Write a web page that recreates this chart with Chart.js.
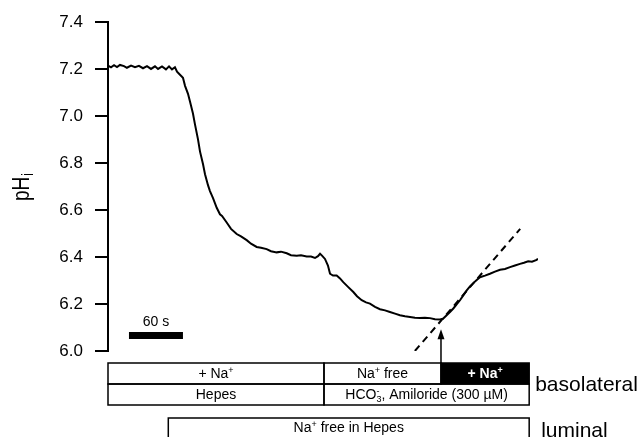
<!DOCTYPE html>
<html lang="en">
<head>
<meta charset="UTF-8" />
<title>pHi trace</title>
<script src="https://cdn.jsdelivr.net/npm/chart.js"></script>
<style>
  html, body { margin: 0; padding: 0; background: #fff; }
</style>
</head>
<body>
<canvas id="myChart" width="643" height="437"></canvas>
<script>
// time (s) and intracellular pH
const timeSec = [
  0, 3.3, 6.7, 10, 13.3, 17.8, 21, 25.6, 30, 34.4,
  38.9, 43.3, 47.8, 52.2, 55.6, 60, 64.4, 67.8, 71.1, 74.4,
  76.7, 80, 83.3, 85.6, 88.9, 91.1, 94.4, 96.7, 100, 102.2,
  105.6, 107.8, 111.1, 113.3, 116.7, 120.8, 124.4, 126.7, 131.9, 136.7,
  143, 147.8, 154.1, 158.9, 165.2, 170, 176.3, 181.1, 187.4, 192.2,
  198.6, 203.3, 209.7, 214.4, 220.8, 225.6, 230, 233.3, 235.6, 237.8,
  241.1, 244.4, 246.7, 250, 254.1, 257.8, 261.4, 266.7, 272.6, 276.7,
  281.9, 286.7, 291.1, 296.7, 302.2, 307.8, 313.3, 318.9, 324.4, 330,
  335.6, 341.1, 346.7, 352.2, 357.8, 363.3, 368.9, 372.2, 376.3, 380,
  383.7, 387.4, 391.1, 394.8, 398.6, 402.2, 405.9, 409.7, 413.3, 418.9,
  424.4, 430, 435.6, 441.1, 446.7, 452.2, 457.8, 462.2, 466.9, 471.1,
  476.3, 477.8
];
const phValues = [
  7.215, 7.208, 7.217, 7.209, 7.218, 7.213, 7.206, 7.215, 7.208, 7.214,
  7.204, 7.213, 7.201, 7.212, 7.201, 7.212, 7.199, 7.212, 7.199, 7.208,
  7.189, 7.176, 7.163, 7.129, 7.095, 7.062, 7.011, 6.964, 6.901, 6.850,
  6.795, 6.753, 6.706, 6.681, 6.651, 6.610, 6.582, 6.575, 6.547, 6.520,
  6.498, 6.488, 6.472, 6.457, 6.443, 6.440, 6.434, 6.425, 6.420, 6.423,
  6.416, 6.408, 6.406, 6.408, 6.402, 6.402, 6.396, 6.404, 6.414, 6.406,
  6.392, 6.364, 6.329, 6.321, 6.321, 6.309, 6.293, 6.273, 6.251, 6.233,
  6.216, 6.207, 6.202, 6.188, 6.178, 6.173, 6.166, 6.159, 6.152, 6.148,
  6.145, 6.142, 6.140, 6.142, 6.140, 6.135, 6.134, 6.137, 6.152, 6.166,
  6.181, 6.199, 6.216, 6.237, 6.258, 6.275, 6.289, 6.302, 6.314, 6.321,
  6.329, 6.338, 6.346, 6.349, 6.357, 6.364, 6.371, 6.376, 6.382, 6.380,
  6.388, 6.393
];

// dashed line fitted to the initial recovery
const fitTime = [341, 458];
const fitPh = [6.0, 6.52];

// 60 s scale bar
const barTime = [23.3, 83.3];
const barPh = 6.066;
const barLabel = "60 s";

const yTicks = [6.0, 6.2, 6.4, 6.6, 6.8, 7.0, 7.2, 7.4];

// solution protocol (^ = superscript, _ = subscript)
const basoEdges1 = [0, 240, 370, 468];
const basoLabels1 = ["+ Na^+", "Na^+ free", "+ Na^+"];
const basoEdges2 = [0, 240, 468];
const basoLabels2 = ["Hepes", "HCO_3^-, Amiloride (300 \u00b5M)"];
const lumEdges = [67, 468];
const lumLabels = ["Na^+ free in Hepes"];
const arrowTime = 370;
const arrowTipPh = 6.093;

const FAM = "'Liberation Sans', Arial, Helvetica, sans-serif";

function parseRich(s) {
    const parts = [];
    for (let i = 0; i < s.length; i++) {
        const c = s[i];
        if (c === "^" || c === "_") {
            const p = { text: s[i + 1], kind: c === "^" ? "sup" : "sub" };
            i++;
            if (p.kind === "sub" && s[i + 1] === "^") {
                p.stack = s[i + 2];
                i += 2;
            }
            parts.push(p);
        } else if (parts.length && parts[parts.length - 1].kind === "norm") {
            parts[parts.length - 1].text += c;
        } else {
            parts.push({ text: c, kind: "norm" });
        }
    }
    return parts;
}

function drawRich(ctx, s, x, y, size, weight, color) {
    const parts = parseRich(s);
    const fNorm = weight + " " + size + "px " + FAM;
    const fSmall = weight + " " + Math.round(size * 0.62) + "px " + FAM;
    let total = 0;
    parts.forEach((p) => {
        ctx.font = p.kind === "norm" ? fNorm : fSmall;
        p.w = ctx.measureText(p.text).width;
        if (p.stack) p.w = Math.max(p.w, ctx.measureText(p.stack).width);
        total += p.w;
    });
    let cx = x - total / 2;
    ctx.fillStyle = color;
    ctx.textAlign = "left";
    ctx.textBaseline = "alphabetic";
    parts.forEach((p) => {
        if (p.kind === "norm") {
            ctx.font = fNorm;
            ctx.fillText(p.text, cx, y);
        } else {
            ctx.font = fSmall;
            if (p.kind === "sup") {
                ctx.fillText(p.text, cx, y - size * 0.36);
            } else {
                ctx.fillText(p.text, cx, y + size * 0.2);
                if (p.stack) ctx.fillText(p.stack, cx, y - size * 0.36);
            }
        }
        cx += p.w;
    });
}

// draws the pHi title, scale bar label, arrow and solution boxes
const annotations = {
    id: "annotations",
    afterDraw(chart) {
        const ctx = chart.ctx;
        const xs = chart.scales.x;
        const ys = chart.scales.y;
        const base = ys.getPixelForValue(6.0);
        ctx.save();

        // y title
        ctx.save();
        ctx.translate(29, 201);
        ctx.rotate(-Math.PI / 2);
        ctx.scale(1, 1.3);
        ctx.fillStyle = "#000";
        ctx.textAlign = "left";
        ctx.textBaseline = "alphabetic";
        ctx.font = "19px " + FAM;
        ctx.fillText("pH", 0, 0);
        const w = ctx.measureText("pH").width;
        ctx.font = "12px " + FAM;
        ctx.fillText("i", w + 1, 3);
        ctx.restore();

        // scale bar label
        drawRich(ctx, barLabel, xs.getPixelForValue((barTime[0] + barTime[1]) / 2),
            ys.getPixelForValue(barPh) - 9, 14, "normal", "#000");

        const r1 = base + 12, r2 = base + 33, r3 = base + 54, l1 = base + 67;
        ctx.lineWidth = 1.5;
        ctx.strokeStyle = "#000";

        // basolateral row 1
        for (let i = 0; i < basoLabels1.length; i++) {
            const x0 = xs.getPixelForValue(basoEdges1[i]);
            const x1 = xs.getPixelForValue(basoEdges1[i + 1]);
            const dark = i === basoLabels1.length - 1;
            if (dark) {
                ctx.fillStyle = "#000";
                ctx.fillRect(x0, r1, x1 - x0, r2 - r1);
            }
            ctx.strokeRect(x0, r1, x1 - x0, r2 - r1);
            drawRich(ctx, basoLabels1[i], (x0 + x1) / 2, r1 + 15, 14,
                dark ? "bold" : "normal", dark ? "#fff" : "#000");
        }
        // basolateral row 2
        for (let i = 0; i < basoLabels2.length; i++) {
            const x0 = xs.getPixelForValue(basoEdges2[i]);
            const x1 = xs.getPixelForValue(basoEdges2[i + 1]);
            ctx.strokeRect(x0, r2, x1 - x0, r3 - r2);
            drawRich(ctx, basoLabels2[i], (x0 + x1) / 2, r2 + 15, 14, "normal", "#000");
        }
        // luminal
        for (let i = 0; i < lumLabels.length; i++) {
            const x0 = xs.getPixelForValue(lumEdges[i]);
            const x1 = xs.getPixelForValue(lumEdges[i + 1]);
            ctx.strokeRect(x0, l1, x1 - x0, 40);
            drawRich(ctx, lumLabels[i], (x0 + x1) / 2, l1 + 14, 14, "normal", "#000");
        }

        const xr = xs.getPixelForValue(basoEdges1[basoEdges1.length - 1]);
        ctx.fillStyle = "#000";
        ctx.textAlign = "left";
        ctx.textBaseline = "alphabetic";
        ctx.font = "21px " + FAM;
        ctx.fillText("basolateral", xr + 6, r2 + 7);
        ctx.fillText("luminal", xr + 12, base + 86);

        // arrow marking Na+ re-addition
        const ax = xs.getPixelForValue(arrowTime);
        const tip = ys.getPixelForValue(arrowTipPh);
        ctx.lineWidth = 1.5;
        ctx.beginPath();
        ctx.moveTo(ax, r1);
        ctx.lineTo(ax, tip + 6);
        ctx.stroke();
        ctx.beginPath();
        ctx.moveTo(ax, tip);
        ctx.lineTo(ax - 3.5, tip + 10);
        ctx.lineTo(ax + 3.5, tip + 10);
        ctx.closePath();
        ctx.fill();
        ctx.restore();
    },
};

const ctx = document.getElementById("myChart").getContext("2d");
const myChart = new Chart(ctx, {
    type: "line",
    data: {
        datasets: [
            {
                data: timeSec.map((t, i) => ({ x: t, y: phValues[i] })),
                borderColor: "#000",
                borderWidth: 2,
                pointRadius: 0,
                tension: 0,
            },
            {
                data: fitTime.map((t, i) => ({ x: t, y: fitPh[i] })),
                borderColor: "#000",
                borderWidth: 2,
                borderDash: [7, 5],
                pointRadius: 0,
            },
            {
                data: barTime.map((t) => ({ x: t, y: barPh })),
                borderColor: "#000",
                borderWidth: 7,
                borderCapStyle: "butt",
                pointRadius: 0,
            },
        ],
    },
    options: {
        responsive: false,
        animation: false,
        layout: { padding: { left: 0, right: 105, top: 20, bottom: 86 } },
        plugins: {
            legend: { display: false },
            tooltip: { enabled: false },
        },
        scales: {
            x: { type: "linear", min: 0, max: 477.8, display: false },
            y: {
                min: 6.0,
                max: 7.4,
                afterFit(scale) {
                    scale.width = 108;
                },
                afterBuildTicks(scale) {
                    scale.ticks = yTicks.map((v) => ({ value: v }));
                },
                ticks: {
                    color: "#000",
                    padding: 12,
                    font: { family: FAM, size: 17 },
                    callback: (v) => Number(v).toFixed(1),
                },
                grid: {
                    drawOnChartArea: false,
                    drawTicks: true,
                    tickLength: 13,
                    color: "#000",
                    lineWidth: 2,
                },
                border: { display: true, color: "#000", width: 2 },
            },
        },
    },
    plugins: [annotations],
});
</script>
</body>
</html>
